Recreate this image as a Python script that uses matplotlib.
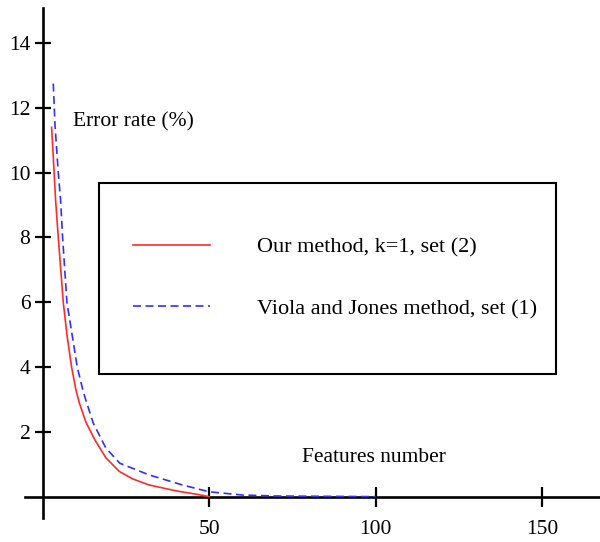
import matplotlib.pyplot as plt
from matplotlib.patches import Rectangle
from matplotlib.lines import Line2D

# values
ours_x = [2.7, 3.3, 3.9, 4.7, 6.2, 7.3, 8.7, 10.0, 11.0, 13.0, 15.7, 19.0, 23.0, 27.0, 32.0, 40.0, 47.0, 50.0]
ours_y = [11.4, 10.3, 9.15, 8.0, 6.0, 5.0, 4.0, 3.3, 2.9, 2.3, 1.75, 1.2, 0.78, 0.55, 0.36, 0.18, 0.06, 0.0]

viola_x = [3.2, 3.7, 4.7, 5.4, 6.0, 7.3, 10.4, 12.3, 15.2, 19.0, 23.2, 32.0, 42.0, 50.0, 60.0, 70.0, 85.0, 100.0]
viola_y = [12.75, 11.5, 10.0, 9.15, 8.0, 6.0, 4.0, 3.2, 2.27, 1.5, 1.03, 0.67, 0.36, 0.15, 0.05, 0.02, 0.01, 0.0]

x_ticks = [50, 100, 150]
y_ticks = [2, 4, 6, 8, 10, 12, 14]
labels = ['Our method, k=1, set (2)', 'Viola and Jones method, set (1)']

plt.rcParams['font.family'] = ['Liberation Serif', 'DejaVu Serif']

fig = plt.figure(figsize=(6, 5.42), dpi=100)
ax = fig.add_axes([0, 0, 1, 1])
ax.set_xlim(-12.8, 167.4)
ax.set_ylim(-1.40, 15.33)

#Curves
ax.plot(ours_x, ours_y, color='#ff2a2a', lw=1.2, zorder=3)
ax.plot(viola_x, viola_y, color='#3030ff', lw=1.2, linestyle=(0, (4.8, 2.7)), zorder=3)

#Axes crossing at the origin
for side in ['top', 'right']:
    ax.spines[side].set_visible(False)
ax.spines['left'].set_position(('data', 0))
ax.spines['bottom'].set_position(('data', 0))
ax.spines['left'].set_bounds(-0.66, 15.08)
ax.spines['bottom'].set_bounds(-5.3, 167.4)
for side in ['left', 'bottom']:
    ax.spines[side].set_linewidth(1.9)
    ax.spines[side].set_zorder(2)

ax.set_xticks(x_ticks)
ax.set_yticks(y_ticks)
ax.tick_params(axis='x', direction='inout', length=14, width=1.6, pad=9.5, labelsize=15.5)
ax.tick_params(axis='y', direction='inout', length=11.5, width=1.6, pad=3, labelsize=15.5)

ax.text(9.1, 11.57, 'Error rate (%)', fontsize=15.5, ha='left', va='center')
ax.text(77.8, 1.21, 'Features number', fontsize=15.5, ha='left', va='center')

#Legend box
ax.add_patch(Rectangle((0.1655, 0.31), 0.9267 - 0.1655, 0.6629 - 0.31,
                       transform=ax.transAxes, fill=False, lw=1.5, ec='black', zorder=4))
handles = [Line2D([], [], color='#ff2a2a', lw=1.2),
           Line2D([], [], color='#3030ff', lw=1.2, linestyle=(0, (4.8, 2.7)))]
ax.legend(handles, labels, loc='upper left', bbox_to_anchor=(133 / 600, 1 - 237 / 542),
          frameon=False, fontsize=16, borderpad=0, borderaxespad=0,
          handlelength=3.47, handletextpad=2.1, labelspacing=1.85)

fig.savefig('out.png', dpi=100)
